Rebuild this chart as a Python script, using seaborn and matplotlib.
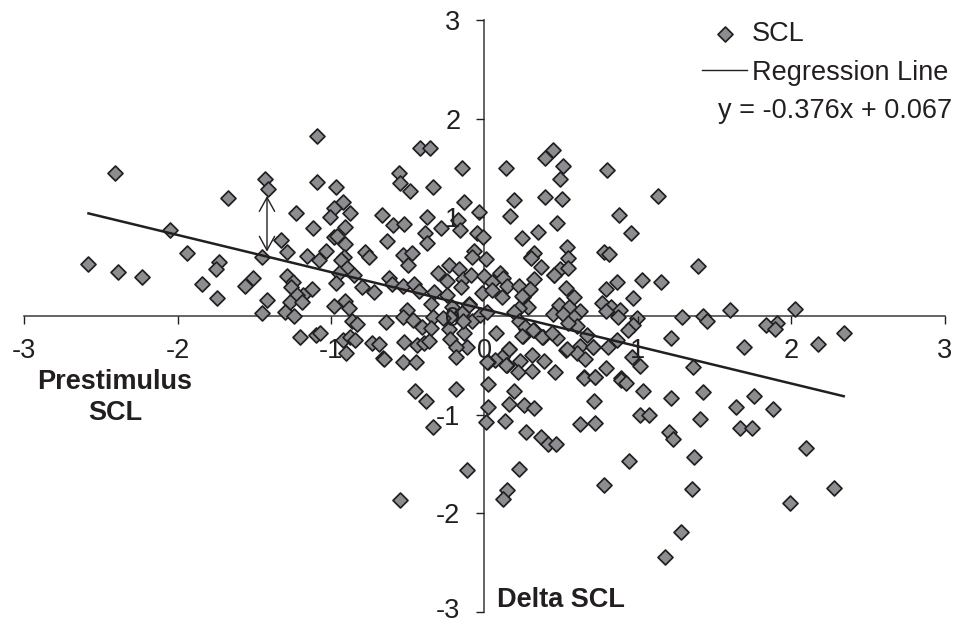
import pandas as pd
import matplotlib
matplotlib.use('Agg')
import matplotlib.pyplot as plt
from matplotlib.transforms import ScaledTranslation
import seaborn as sns

# Values
delta_scl = [
    -2.41, -2.585, -2.39, -2.23, -2.05, -1.94, -1.73, -1.75, -1.84, -1.74, -1.67, -1.43, -1.41, -1.45, -1.51, -1.56,
    -1.415, -1.45, -1.325, -1.09, -1.09, -0.97, -0.92, -0.98, -0.875, -1.004, -1.225, -1.117, -0.91, -0.98, -0.96,
    -0.906, -1.284, -1.158, -1.034, -1.08, -0.915, -0.934, -0.893, -0.945, -0.85, -0.97, -1.284, -1.245, -1.262,
    -1.125, -1.18, -1.223, -1.267, -1.186, -1.30, -1.241, -0.98, -0.906, -0.88, -0.80, -0.72, -0.778, -0.752,
    -0.865, -0.828, -0.641, -1.2, -1.1, -1.07, -0.924, -0.876, -0.843, -0.902, -0.733, -0.69, -0.66, -0.67, -0.598,
    -0.522, -0.635, -0.56, -0.55, -0.485, -0.418, -0.352, -0.144, -0.333, -0.135, -0.036, -0.372, -0.281, -0.174,
    -0.157, -0.387, -0.376, -0.05, -0.007, -0.533, -0.474, -0.498, -0.068, -0.079, 0.01, -0.229, -0.166, -0.305,
    -0.246, -0.138, -0.088, -0.001, -0.153, -0.018, -0.622, -0.60, -0.528, -0.459, -0.426, -0.331, -0.246, -0.35,
    -0.098, -0.213, -0.502, -0.528, -0.463, -0.333, -0.224, -0.148, -0.083, -0.029, -0.409, -0.35, -0.229, -0.133,
    -0.524, -0.441, -0.394, -0.361, -0.224, -0.111, -0.185, -0.185, -0.529, -0.448, -0.098, -0.138, -0.268, 0.019,
    0.301, 0.366, 0.453, 0.104, 0.119, 0.047, 0.145, 0.047, 0.112, 0.227, 0.325, 0.29, 0.249, 0.286, 0.227, 0.193,
    0.253, 0.269, 0.323, 0.379, 0.073, 0.16, 0.117, 0.069, 0.025, 0.145, 0.232, 0.308, 0.39, 0.221, 0.312, 0.46,
    0.025, 0.449, 0.392, 0.512, 0.492, 0.143, 0.798, 1.133, 0.195, 0.397, 0.503, 0.164, 0.475, 0.349, 0.242, 0.877,
    0.955, 0.538, 0.547, 0.323, 0.301, 0.492, 0.542, 0.453, 0.779, 0.814, 1.393, 0.866, 1.029, 1.15, 0.792, 0.97,
    0.529, 0.583, 0.297, 0.242, 0.486, 0.551, 0.622, 0.444, 0.514, 0.586, 0.764, 0.824, 0.883, 0.792, 0.872, 0.992,
    0.966, 0.933, 1.289, 1.421, 1.215, 0.225, 0.264, 0.318, 0.373, 0.242, 0.47, 0.438, 0.601, 0.546, 0.666, 0.861,
    0.622, 0.705, 0.807, 0.531, 0.6, 0.655, 0.959, 1.013, 0.792, 1.361, 0.648, 0.72, 0.889, -0.655, -0.453, -0.381,
    -0.188, 0.194, -0.334, 0.02, 0.162, 0.257, 0.322, 0.007, 0.133, 0.268, 0.368, 0.411, 0.463, -0.116, 0.225,
    0.146, 0.118, -0.549, 0.943, 0.778, 1.174, 1.278, 0.622, 0.722, 1.015, 1.074, 1.204, 1.23, 0.711, 1.035, 1.213,
    0.889, 0.92, 0.65, 0.722, 0.535, 0.709, 0.162, 0.018, 0.14, 1.447, 1.597, 2.025, 1.903, 1.831, 1.892, 1.692,
    2.172, 2.342, 1.425, 1.758, 1.636, 1.881, 1.401, 1.662, 1.745, 2.092, 1.367, 2.274, 1.349, 1.988,
]
prestimulus_scl = [
    1.45, 0.53, 0.45, 0.395, 0.87, 0.64, 0.55, 0.48, 0.32, 0.18, 1.2, 1.39, 1.29, 0.60, 0.39, 0.30,
    0.16, 0.03, 0.77, 1.82, 1.36, 1.31, 1.155, 1.09, 1.04, 1.0, 1.04, 0.89, 0.905, 0.80, 0.81,
    0.73, 0.65, 0.608, 0.658, 0.564, 0.60, 0.564, 0.483, 0.432, 0.415, 0.33, 0.408, 0.34, 0.29,
    0.273, 0.21, 0.21, 0.145, 0.145, 0.043, 0.003, 0.10, 0.15, 0.077, 0.29, 0.24, 0.652, 0.60,
    -0.05, -0.085, -0.058, -0.217, -0.193, -0.176, -0.244, -0.217, -0.244, -0.379, -0.27, -0.285, -0.43, 1.02, 0.918,
    0.932, 0.763, 1.445, 1.344, 1.266, 1.70, 1.70, 1.503, 1.307, 1.152, 1.054, 0.999, 0.891, 0.972,
    0.868, 0.837, 0.743, 0.844, 0.804, 0.614, 0.635, 0.516, 0.658, 0.594, 0.577, 0.516, 0.476, 0.432,
    0.354, 0.371, 0.415, 0.405, 0.29, 0.229, 0.381, 0.324, 0.307, 0.324, 0.253, 0.246, 0.212, 0.121,
    0.121, 0.094, 0.06, -0.007, -0.041, -0.007, -0.007, 0.027, -0.05, 0.01, -0.115, -0.125, -0.135, -0.176,
    -0.261, -0.294, -0.27, -0.25, -0.237, -0.311, -0.311, -0.413, -0.463, -0.463, 0.112, -0.05, -0.024, 0.044,
    0.601, 0.50, 0.416, 0.439, 0.382, 0.341, 0.304, 0.264, 0.189, 0.304, 0.375, 0.264, 0.196, 0.088, 0.078, 0.037,
    -0.203, -0.135, -0.142, -0.209, -0.176, -0.334, -0.412, -0.446, -0.463, -0.497, -0.453, -0.395, -0.453, -0.564, -0.554, -0.564,
    -0.689, 1.682, 1.598, 1.52, 1.385, 1.496, 1.476, 1.213, 1.176, 1.203, 1.189, 1.01, 0.946, 0.855, 0.79, 1.027,
    0.844, 0.699, 0.584, 0.642, 0.591, 0.473, 0.483, 0.412, 0.652, 0.628, 0.507, 0.348, 0.365, 0.341, 0.274, 0.179,
    0.28, 0.196, 0.27, 0.206, 0.115, 0.094, 0.05, 0.017, 0.017, -0.014, 0.135, 0.095, 0.061, 0.05, -0.014, -0.017,
    -0.091, -0.142, -0.014, 0.0, -0.226, -0.047, -0.115, -0.142, -0.216, -0.203, -0.226, -0.176, -0.098, -0.074, -0.193, -0.243,
    -0.304, -0.311, -0.311, -0.345, -0.378, -0.439, -0.412, -0.507, -0.53, -0.52, -0.62, -0.615, -0.63, -0.436, -0.757, -0.861,
    -0.74, -0.757, -1.121, -0.919, -0.895, -0.902, -0.929, -1.077, -1.06, -1.179, -1.23, -1.3, -1.297, -1.557, -1.554,
    -1.76, -1.858, -1.865, -1.473, -1.716, -2.446, -2.192, -1.098, -1.084, -1.0, -1.007, -1.179, -1.25, -0.865, -0.76, -0.834,
    -0.648, -0.682, -0.631, -0.615, -0.338, -0.317, -0.338, -0.463, -0.496, -0.051, 0.064, 0.067, -0.068, -0.095, -0.135, -0.318,
    -0.287, -0.169, -0.774, -0.808, -0.919, -0.946, -1.041, -1.132, -1.132, -1.335, -1.426, -1.747, -1.754, -1.892,
]
line_x = [-2.58, 2.34]
line_y = [1.04, -0.813]
tick_values = [-3, -2, -1, 0, 1, 2, 3]

dark = '#231f20'
plt.rcParams['font.family'] = ['Liberation Sans', 'DejaVu Sans']
plt.rcParams['axes.unicode_minus'] = False

df = pd.DataFrame({'delta': delta_scl, 'pre': prestimulus_scl})

fig = plt.figure(figsize=(9.56, 6.24), dpi=100)
ax = fig.add_axes([24 / 956, 1 - 612 / 624, 921 / 956, 592 / 624])

sns.scatterplot(data=df, x='delta', y='pre', marker='D', s=58, color='#8b8d90', edgecolor=dark,
                linewidth=1.25, label='SCL', ax=ax, zorder=2, clip_on=False)
sns.lineplot(x=line_x, y=line_y, color=dark, linewidth=1.8, ax=ax, zorder=3, label='Regression Line')

ax.set_xlim(-3, 3)
ax.set_ylim(-3, 3)
ax.set_xlabel('')
ax.set_ylabel('')
ax.patch.set_visible(False)
ax.spines['top'].set_visible(False)
ax.spines['right'].set_visible(False)
ax.spines['left'].set_position(('data', 0))
ax.spines['bottom'].set_position(('data', 0))
for side in ['left', 'bottom']:
    ax.spines[side].set_color('#3a3839')
    ax.spines[side].set_linewidth(1.1)
    ax.spines[side].set_zorder(0.5)
ax.set_axisbelow(False)
ax.set_xticks(tick_values)
ax.set_yticks(tick_values)
ax.tick_params(axis='x', length=5.8, width=1, pad=10, labelsize=19.5, colors=dark)
ax.tick_params(axis='y', length=5.8, width=1, pad=11.5, labelsize=19.5, colors=dark)

# Lift the bottom label a little so it stays inside the picture
bottom_label = ax.get_yticklabels()[0]
bottom_label.set_transform(bottom_label.get_transform() + ScaledTranslation(0, 3 / 72, fig.dpi_scale_trans))

# Legend and equation at the top right
leg = ax.legend(loc='upper left', bbox_to_anchor=(0.7365, 0.9985), frameon=False, fontsize=19.5,
                handlelength=1.65, handletextpad=0.18, labelspacing=0.47, borderpad=0, borderaxespad=0)
for t in leg.get_texts():
    t.set_color(dark)
leg.get_lines()[0].set_linewidth(1)
fig.text(835 / 956, 1 - 111 / 624, 'y = -0.376x + 0.067', fontsize=19.5, color=dark, ha='center', va='center')

fig.text(115 / 956, 1 - 382 / 624, 'Prestimulus', fontsize=19.5, fontweight='bold', color=dark,
         ha='center', va='center')
fig.text(115 / 956, 1 - 413 / 624, 'SCL', fontsize=19.5, fontweight='bold', color=dark,
         ha='center', va='center')
fig.text(561 / 956, 1 - 600 / 624, 'Delta SCL', fontsize=19.5, fontweight='bold', color=dark,
         ha='center', va='center')

# Double headed arrow from the line up to a point
ax.annotate('', xy=(-1.417, 1.216), xytext=(-1.417, 0.652),
            arrowprops=dict(arrowstyle='<->,head_length=1.0,head_width=0.55', color=dark, lw=1,
                            shrinkA=0, shrinkB=0), zorder=4)

plt.savefig('out.png', dpi=100)
plt.close()
